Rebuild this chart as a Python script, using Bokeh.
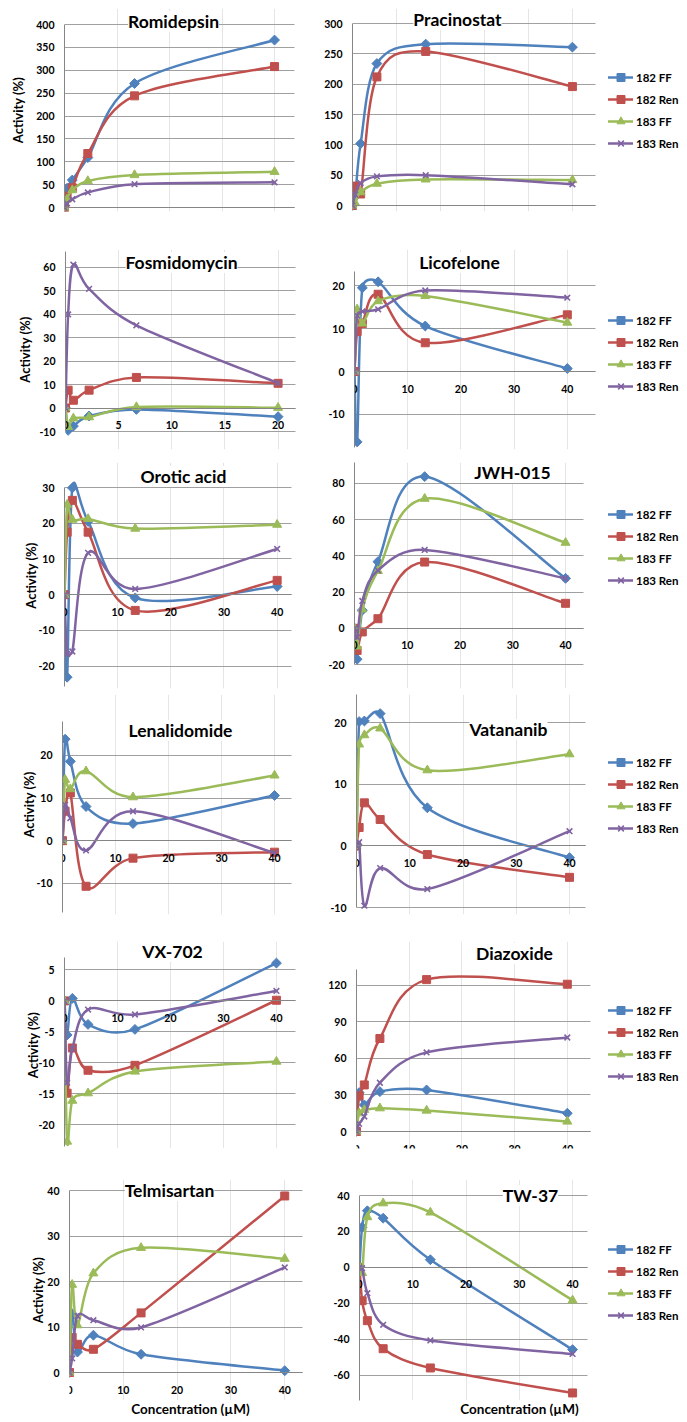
import math
from bokeh.plotting import figure
from bokeh.models import (Range1d, LinearAxis, FixedTicker, Label, Legend, LegendItem,
                          NumeralTickFormatter)
from bokeh.layouts import column, row
from bokeh.embed import file_html
from bokeh.resources import INLINE

FONT = "Lato"

# ---------------- data ----------------
SERIES = ["182 FF", "182 Ren", "183 FF", "183 Ren"]

X_ROMI = [0, 0.0247, 0.0741, 0.222, 0.667, 2]
X_PRAC = [0, 0.123, 0.370, 1.11, 3.33, 10]
X_FOSM = [0, 0.247, 0.741, 2.22, 6.67, 20]
X_40 = [0, 0.494, 1.48, 4.44, 13.3, 40]

ROMI_182FF = [0, 42, 60, 109, 271, 366]
ROMI_182REN = [0, 25, 43, 118, 244, 308]
ROMI_183FF = [0, 18, 38, 58, 71, 78]
ROMI_183REN = [0, 9, 18, 33, 51, 55]

PRAC_182FF = [0, 15, 102, 234, 266, 261]
PRAC_182REN = [0, 32, 19, 212, 254, 196]
PRAC_183FF = [0, 4, 22, 36, 43, 42]
PRAC_183REN = [0, 18, 37, 48, 50, 35]

FOSM_182FF = [0, -9.5, -7.7, -3.4, -0.6, -3.7]
FOSM_182REN = [0, 7.6, 3.3, 7.6, 13.0, 10.5]
FOSM_183FF = [0, -8, -4.4, -3.9, 0.4, 0.1]
FOSM_183REN = [0, 39.8, 61, 50.7, 35.2, 10.6]

LICO_182FF = [0, -16.4, 19.5, 20.9, 10.6, 0.7]
LICO_182REN = [0, 9.3, 11.2, 18.0, 6.7, 13.2]
LICO_183FF = [0, 14.5, 11.2, 16.4, 17.6, 11.4]
LICO_183REN = [0, 13.0, 14.0, 14.5, 18.9, 17.2]

OROT_182FF = [0, -23.1, 29.9, 20.5, -0.9, 2.3]
OROT_182REN = [0, 17.5, 26.4, 17.5, -4.4, 4.0]
OROT_183FF = [0, 25.2, 21.0, 21.2, 18.5, 19.6]
OROT_183REN = [0, -16.6, -15.9, 11.7, 1.6, 12.8]

JWH_182FF = [0, -17.1, 10, 36.8, 83.8, 27.6]
JWH_182REN = [0, -12.2, -2, 5.3, 36.6, 13.8]
JWH_183FF = [0, -10, 10.5, 31.7, 71.6, 47.3]
JWH_183REN = [0, -5, 15.1, 32, 43.3, 27.6]

LENA_182FF = [0, 23.8, 18.6, 8.0, 4.0, 10.6]
LENA_182REN = [0, 6.9, 11.2, -10.7, -4.1, -2.7]
LENA_183FF = [0, 14.3, 12.1, 16.3, 10.2, 15.3]
LENA_183REN = [0, 8.4, 5.3, -2.3, 6.9, -2.9]

VATA_182FF = [0, 20.2, 20.3, 21.5, 6.2, -1.9]
VATA_182REN = [0, 3.0, 7.0, 4.3, -1.4, -5.1]
VATA_183FF = [0, 16.5, 18.0, 19.1, 12.3, 14.9]
VATA_183REN = [0, 0.6, -9.7, -3.6, -7.0, 2.4]

VX_182FF = [0, -5.5, 0.4, -3.8, -4.6, 6.1]
VX_182REN = [0, -14.9, -7.6, -11.2, -10.4, 0.1]
VX_183FF = [0, -22.7, -16.1, -14.9, -11.4, -9.8]
VX_183REN = [0, -13.2, -7.7, -1.4, -2.2, 1.6]

DIAZ_182FF = [0, 31.9, 21.8, 32.7, 34.1, 15]
DIAZ_182REN = [0, 29.2, 38.2, 76.3, 124.6, 120.8]
DIAZ_183FF = [0, 15, 17.7, 19.1, 17.2, 8.2]
DIAZ_183REN = [0, 6.3, 12.3, 40, 64.9, 77.1]

TELM_182FF = [0, 12.9, 4.5, 8.2, 4.0, 0.4]
TELM_182REN = [0, 7.7, 6.2, 5.1, 13.1, 38.8]
TELM_183FF = [0, 19.3, 10.4, 21.8, 27.4, 25.0]
TELM_183REN = [0, 3.1, 12.4, 11.5, 9.9, 23.1]

TW_182FF = [0, 22.4, 31.5, 27.4, 4.3, -45.7]
TW_182REN = [0, -18.5, -29.6, -45.2, -55.9, -69.8]
TW_183FF = [0, -3.1, 28, 35.7, 30.6, -18.3]
TW_183REN = [0, -0.4, -14.3, -31.9, -40.6, -48.1]

XT_ROMI = [0, 0.5, 1, 1.5, 2]
XT_PRAC = [0, 2, 4, 6, 8, 10]
XT_FOSM = [0, 5, 10, 15, 20]
XT_40 = [0, 10, 20, 30, 40]

# ---------------- styling / layout ----------------
COLORS = ["#4F81BD", "#C0504D", "#9BBB59", "#8064A2"]
MARKERS = [("square", math.pi / 4, 7), ("square", 0, 8), ("triangle", 0, 9), ("x", 0, 8)]
GRID = "#A0A0A0"
AXIS = "#868686"

ROWS = [(1, 238), (238, 462), (462, 693), (693, 925), (925, 1155), (1155, 1418)]
ROW_FRAME = [(9, 212), (250, 450), (463, 689), (695, 915), (942, 1149), (1180, 1401)]
COLS = [(2, 315), (315, 683)]
COL_FRAME_R = [313, 681]

# axis box in pixels: (left, top, right-of-grid, bottom), axis value range, x value at grid end
PANELS = [
    dict(title="Romidepsin", x=X_ROMI, ys=[ROMI_182FF, ROMI_182REN, ROMI_183FF, ROMI_183REN],
         xt=XT_ROMI, yt=list(range(0, 401, 50)), box=(66, 25, 296, 208), xend=2.19, yr=(0, 400),
         tpos=(175, 22), ylab=7),
    dict(title="Pracinostat", x=X_PRAC, ys=[PRAC_182FF, PRAC_182REN, PRAC_183FF, PRAC_183REN],
         xt=XT_PRAC, yt=list(range(0, 301, 50)), box=(354, 24, 597, 206), xend=11.05, yr=(0, 300),
         tpos=(459, 20), leg=68),
    dict(title="Fosmidomycin", x=X_FOSM, ys=[FOSM_182FF, FOSM_182REN, FOSM_183FF, FOSM_183REN],
         xt=XT_FOSM, yt=list(range(-10, 61, 10)), box=(67, 252, 297, 432), xend=21.64, yr=(-10, 66.6),
         tpos=(183, 263), ylab=3),
    dict(title="Licofelone", x=X_40, ys=[LICO_182FF, LICO_182REN, LICO_183FF, LICO_183REN],
         xt=XT_40, yt=[-10, 0, 10, 20], box=(356, 272, 597, 448), xend=45.3, yr=(-17.7, 23.3),
         tpos=(461, 263), leg=311),
    dict(title="Orotic acid", x=X_40, ys=[OROT_182FF, OROT_182REN, OROT_183FF, OROT_183REN],
         xt=XT_40, yt=[-20, -10, 0, 10, 20, 30], box=(66, 488, 293, 687), xend=42.7, yr=(-25.7, 30),
         tpos=(185, 477), ylab=-4),
    dict(title="JWH-015", x=X_40, ys=[JWH_182FF, JWH_182REN, JWH_183FF, JWH_183REN],
         xt=XT_40, yt=[-20, 0, 20, 40, 60, 80], box=(356, 463, 585, 665), xend=43.4, yr=(-20, 91.6),
         tpos=(514, 473), leg=505),
    dict(title="Lenalidomide", x=X_40, ys=[LENA_182FF, LENA_182REN, LENA_183FF, LENA_183REN],
         xt=XT_40, yt=[-10, 0, 10, 20], box=(64, 722, 293, 913), xend=43.2, yr=(-16.85, 27.95),
         tpos=(182, 731), ylab=-4),
    dict(title="Vatananib", x=X_40, ys=[VATA_182FF, VATA_182REN, VATA_183FF, VATA_183REN],
         xt=XT_40, yt=[-10, 0, 10, 20], box=(358, 695, 587, 908), xend=43.0, yr=(-10, 24.6),
         tpos=(510, 730), leg=753),
    dict(title="VX-702", x=X_40, ys=[VX_182FF, VX_182REN, VX_183FF, VX_183REN],
         xt=XT_40, yt=[-20, -15, -10, -5, 0, 5], box=(66, 958, 297, 1147), xend=43.6, yr=(-23.5, 7.0),
         tpos=(174, 952), ylab=-6),
    dict(title="Diazoxide", x=X_40, ys=[DIAZ_182FF, DIAZ_182REN, DIAZ_183FF, DIAZ_183REN],
         xt=XT_40, yt=[0, 30, 60, 90, 120], box=(358, 970, 592, 1132), xend=44.4, yr=(0, 132.9),
         tpos=(516, 954), leg=1001),
    dict(title="Telmisartan", x=X_40, ys=[TELM_182FF, TELM_182REN, TELM_183FF, TELM_183REN],
         xt=XT_40, yt=[0, 10, 20, 30, 40], box=(71, 1191, 304, 1373), xend=43.3, yr=(0, 40),
         tpos=(171, 1191), ylab=-2, xlab=197),
    dict(title="TW-37", x=X_40, ys=[TW_182FF, TW_182REN, TW_183FF, TW_183REN],
         xt=XT_40, yt=[-60, -40, -20, 0, 20, 40], box=(361, 1196, 589, 1401), xend=42.8, yr=(-74, 40),
         tpos=(532, 1196), leg=1240, xlab=486),
]


def bezier_controls(xs, ys, sx, sy, f=1.0 / 6.0):
    """Excel-like smoothing: Catmull-Rom bezier controls computed in screen space."""
    P = [(x * sx, y * sy) for x, y in zip(xs, ys)]
    n = len(P)
    out = dict(x0=[], y0=[], x1=[], y1=[], cx0=[], cy0=[], cx1=[], cy1=[])
    for i in range(n - 1):
        p0 = P[i - 1] if i > 0 else P[i]
        p1, p2 = P[i], P[i + 1]
        p3 = P[i + 2] if i + 2 < n else P[i + 1]
        d12 = math.hypot(p2[0] - p1[0], p2[1] - p1[1])
        a1 = [(p2[0] - p0[0]) * f, (p2[1] - p0[1]) * f]
        a2 = [(p3[0] - p1[0]) * f, (p3[1] - p1[1]) * f]
        for a in (a1, a2):
            la = math.hypot(a[0], a[1])
            if la > 0.5 * d12 and la > 0:
                k = 0.5 * d12 / la
                a[0] *= k
                a[1] *= k
        c1 = (p1[0] + a1[0], p1[1] + a1[1])
        c2 = (p2[0] - a2[0], p2[1] - a2[1])
        out["x0"].append(p1[0] / sx); out["y0"].append(p1[1] / sy)
        out["x1"].append(p2[0] / sx); out["y1"].append(p2[1] / sy)
        out["cx0"].append(c1[0] / sx); out["cy0"].append(c1[1] / sy)
        out["cx1"].append(c2[0] / sx); out["cy1"].append(c2[1] / sy)
    return out


def style_ticks(ax):
    ax.major_label_text_font = FONT
    ax.major_label_text_font_style = "bold"
    ax.major_label_text_font_size = "10.5px"
    ax.major_label_text_color = "black"
    ax.axis_line_color = AXIS
    ax.major_tick_out = 0
    ax.major_tick_in = 0
    ax.minor_tick_out = 0
    ax.minor_tick_in = 0


def make_panel(cfg, ri, ci):
    rtop, rbot = ROWS[ri]
    T, B = ROW_FRAME[ri]
    cleft, cright = COLS[ci]
    R = COL_FRAME_R[ci]
    L, aT, gR, aB = cfg["box"]
    y0, y1 = cfg["yr"]
    xend = cfg["xend"]
    sx = (gR - L) / xend
    sy = (aB - aT) / (y1 - y0)
    fw, fh = R - L, B - T
    ys0 = y0 - (B - aB) / sy
    ys1 = y1 + (aT - T) / sy
    xs1 = (R - L) / sx

    p = figure(frame_width=fw, frame_height=fh,
               min_border_left=L - cleft, min_border_right=cright - R,
               min_border_top=T - rtop, min_border_bottom=rbot - B,
               x_range=Range1d(0, xs1), y_range=Range1d(ys0, ys1),
               x_axis_location=None, y_axis_location="left",
               output_backend="svg", toolbar_location=None,
               background_fill_color="white", border_fill_color="white",
               outline_line_color=None)

    ya = p.yaxis[0]
    ya.ticker = FixedTicker(ticks=cfg["yt"])
    ya.formatter = NumeralTickFormatter(format="0.[0]")
    style_ticks(ya)
    ya.bounds = (y0, y1)
    ya.major_label_standoff = 10
    if ci == 0:
        ya.axis_label = "Activity (%)"
        ya.axis_label_text_font = FONT
        ya.axis_label_text_font_style = "bold"
        ya.axis_label_text_font_size = "13px"
        ya.axis_label_text_color = "black"
        ya.axis_label_standoff = cfg.get("ylab", 4)
    p.ygrid.ticker = FixedTicker(ticks=cfg["yt"])
    p.ygrid.grid_line_color = GRID
    p.ygrid.grid_line_width = 1
    p.ygrid.cross_bounds = (0, xend)

    xa = LinearAxis(fixed_location=0, ticker=FixedTicker(ticks=cfg["xt"]),
                    formatter=NumeralTickFormatter(format="0.[0]"))
    style_ticks(xa)
    xa.bounds = (0, xend)
    xa.major_label_standoff = 13
    p.add_layout(xa, "below")

    if "xlab" in cfg:
        c = (cfg["xlab"] - L) / sx
        la = LinearAxis(ticker=FixedTicker(ticks=[]), axis_label="Concentration (\u00b5M)")
        la.bounds = (0, 2 * c)
        la.axis_line_color = None
        la.major_tick_out = 0
        la.major_tick_in = 0
        la.minor_tick_out = 0
        la.minor_tick_in = 0
        la.major_label_standoff = 0
        la.axis_label_standoff = 0
        la.axis_label_text_font = FONT
        la.axis_label_text_font_style = "bold"
        la.axis_label_text_font_size = "13.5px"
        la.axis_label_text_color = "black"
        p.add_layout(la, "below")

    tx, ty = cfg["tpos"]
    p.add_layout(Label(x=(tx - L) / sx, y=y0 + (aB - ty) / sy, text=cfg["title"],
                       text_align="center", text_baseline="middle", text_font=FONT,
                       text_font_style="bold", text_font_size="17.5px", text_color="black",
                       background_fill_color="white"))

    items = []
    for k, ys in enumerate(cfg["ys"]):
        col = COLORS[k]
        bz = bezier_controls(cfg["x"], ys, sx, sy)
        br = p.bezier(source=bz, x0="x0", y0="y0", x1="x1", y1="y1",
                      cx0="cx0", cy0="cy0", cx1="cx1", cy1="cy1",
                      line_color=col, line_width=2.5, line_cap="round", line_join="round")
        m, ang, size = MARKERS[k]
        if m == "x":
            sr = p.scatter(cfg["x"], ys, marker="x", size=size, line_color=col, line_width=1.6)
        else:
            sr = p.scatter(cfg["x"], ys, marker=m, angle=ang, size=size,
                           fill_color=col, line_color=col, line_width=1)
        items.append(LegendItem(label=SERIES[k], renderers=[br, sr]))

    if "leg" in cfg:
        leg_h = 4 * 20 + 3 * 2
        vy = B - (cfg["leg"] + leg_h)
        leg = Legend(items=items, location=(610 - L, vy), orientation="vertical",
                     glyph_width=25, glyph_height=20, label_height=20, spacing=2,
                     padding=0, margin=0, label_standoff=3,
                     border_line_color=None, background_fill_alpha=0,
                     label_text_font=FONT, label_text_font_style="bold",
                     label_text_font_size="11.5px", label_text_color="black")
        p.add_layout(leg, "center")
    return p


rows = []
for r in range(6):
    figs = [make_panel(PANELS[2 * r + c], r, c) for c in range(2)]
    rows.append(row(*figs))
layout = column(*rows)

open("out.html", "w").write(file_html(layout, INLINE))
